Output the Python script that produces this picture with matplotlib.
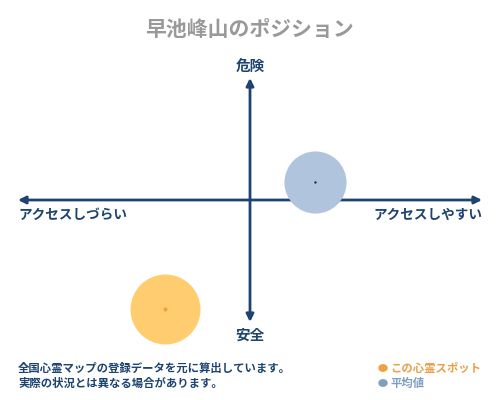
import matplotlib
matplotlib.use("Agg")
from matplotlib import pyplot as plt

plt.rcParams["font.family"] = ["Noto Sans CJK JP", "DejaVu Sans"]

title = "早池峰山のポジション"
top_label, bottom_label = "危険", "安全"
left_label, right_label = "アクセスしづらい", "アクセスしやすい"
notes = ["全国心霊マップの登録データを元に算出しています。",
         "実際の状況とは異なる場合があります。"]
legend_labels = ["この心霊スポット", "平均値"]

# positions on a -100..100 scale (x: access, y: danger)
spot_x, spot_y = [-36.6], [-89.0]
avg_x, avg_y = [28.0], [14.8]

navy = "#1d4470"
fill_colors = ["#ffcc70", "#b0c4de"]
dot_colors = ["#f0a030", "#1d3050"]
legend_colors = ["#f0a040", "#7f9fc0"]
legend_text_colors = ["#e8a048", "#7f9fc0"]

fig = plt.figure(figsize=(5, 4), dpi=100)
ax = fig.add_axes([18 / 500, 1 - 322 / 400, 464 / 500, 244 / 400])
ax.set_xlim(-100, 100)
ax.set_ylim(-100, 100)
ax.axis("off")

# axes with arrows
arrow = dict(arrowstyle="<|-|>", color=navy, lw=2, mutation_scale=11,
             shrinkA=0, shrinkB=0)
ax.annotate("", xy=(-100, 0), xytext=(100, 0), arrowprops=arrow,
            annotation_clip=False)
ax.annotate("", xy=(0, -100), xytext=(0, 100), arrowprops=arrow,
            annotation_clip=False)

# bubbles
ax.scatter(avg_x, avg_y, s=2000, color=fill_colors[1], lw=0, zorder=3, clip_on=False)
ax.scatter(avg_x, avg_y, s=3, color=dot_colors[1], lw=0, zorder=4)
ax.scatter(spot_x, spot_y, s=2540, color=fill_colors[0], lw=0, zorder=3, clip_on=False)
ax.scatter(spot_x, spot_y, s=8, color=dot_colors[0], lw=0, zorder=4, clip_on=False)

# labels
fig.text(0.5, 1 - 29 / 400, title, ha="center", va="center", fontsize=15,
         color="#999999", fontweight="bold")
fig.text(0.5, 1 - 67 / 400, top_label, ha="center", va="center", fontsize=10.5,
         color=navy, fontweight="bold")
fig.text(0.5, 1 - 335 / 400, bottom_label, ha="center", va="center", fontsize=10.5,
         color=navy, fontweight="bold")
fig.text(18 / 500, 1 - 215 / 400, left_label, ha="left", va="center", fontsize=9.8,
         color=navy, fontweight="bold")
fig.text(482 / 500, 1 - 215 / 400, right_label, ha="right", va="center", fontsize=9.8,
         color=navy, fontweight="bold")

for i, note in enumerate(notes):
    fig.text(18 / 500, 1 - (368 + 15 * i) / 400, note, ha="left", va="center",
             fontsize=8.2, color=navy, fontweight="bold")

for i, lab in enumerate(legend_labels):
    y = 1 - (368 + 15 * i) / 400
    fig.patches.append(matplotlib.patches.Circle(
        (383 / 500, y), 4 / 500, transform=fig.transFigure,
        color=legend_colors[i], figure=fig))
    fig.text(390 / 500, y, lab, ha="left", va="center", fontsize=8.2,
             color=legend_text_colors[i], fontweight="bold")

fig.savefig("out.png", dpi=100)
